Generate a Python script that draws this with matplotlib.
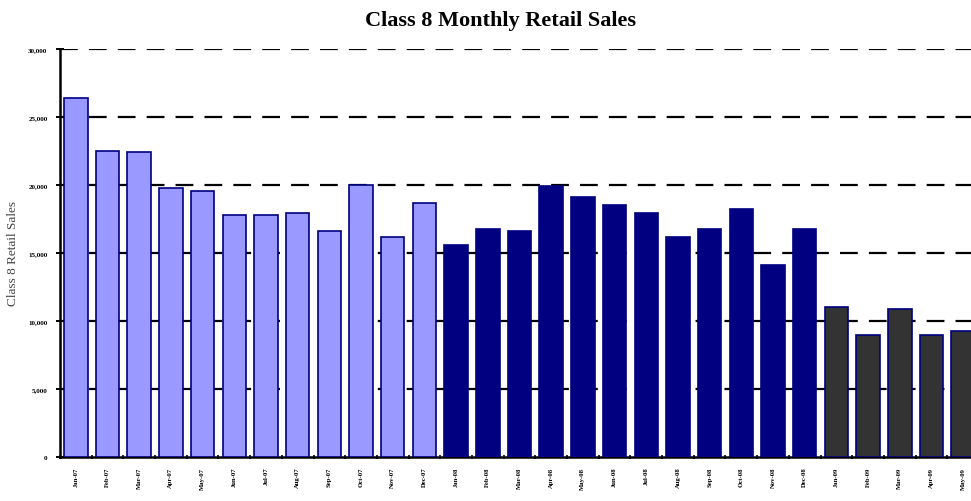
import matplotlib
matplotlib.use("Agg")
import matplotlib.pyplot as plt
from matplotlib.ticker import FuncFormatter

months = ["Jan-07", "Feb-07", "Mar-07", "Apr-07", "May-07", "Jun-07", "Jul-07", "Aug-07",
          "Sep-07", "Oct-07", "Nov-07", "Dec-07",
          "Jan-08", "Feb-08", "Mar-08", "Apr-08", "May-08", "Jun-08", "Jul-08", "Aug-08",
          "Sep-08", "Oct-08", "Nov-08", "Dec-08",
          "Jan-09", "Feb-09", "Mar-09", "Apr-09", "May-09"]
sales = [26400, 22500, 22400, 19800, 19550, 17800, 17800, 17950, 16650, 20000, 16200, 18700,
         15600, 16750, 16650, 19950, 19150, 18550, 17950, 16200, 16750, 18250, 14150, 16750,
         11050, 8950, 10900, 8950, 9250]
years = [2007] * 12 + [2008] * 12 + [2009] * 5
yticks = [0, 5000, 10000, 15000, 20000, 25000, 30000]

face = {2007: "#9999FF", 2008: "#000080", 2009: "#333333"}

W, H = 971, 502
fig = plt.figure(figsize=(W / 100, H / 100), dpi=100)
x0, x1 = 60, 979
y0, y1 = 458, 50
ax = fig.add_axes([x0 / W, 1 - y0 / H, (x1 - x0) / W, (y0 - y1) / H])

serif = ["Liberation Serif", "DejaVu Serif"]

xs = list(range(len(months)))
ax.bar(xs, sales, width=0.74, color=[face[y] for y in years],
       edgecolor="#000080", linewidth=1.2, zorder=3)

ax.set_xlim(-0.5, len(months) - 0.5)
ax.set_ylim(0, 30000)
ax.set_yticks(yticks)
ax.yaxis.set_major_formatter(FuncFormatter(lambda v, p: f"{int(v):,}"))
for v in yticks[1:]:
    ax.axhline(v, color="black", linestyle=(0, (8, 5)), linewidth=1.6, zorder=1)

ax.set_xticks(xs)
ax.set_xticklabels(months, rotation=90, fontsize=4.8, family=serif, fontweight="bold")
ax.set_xticks([x - 0.5 for x in xs] + [len(months) - 0.5], minor=True)
ax.tick_params(axis="x", which="major", length=0, pad=7)
ax.tick_params(axis="x", which="minor", length=3, width=1.2, direction="inout")
ax.tick_params(axis="y", length=6, width=1.4, direction="inout", labelsize=5, pad=6)
for t in ax.get_yticklabels():
    t.set_family(serif)
    t.set_fontweight("bold")

for s in ["top", "right"]:
    ax.spines[s].set_visible(False)
ax.spines["left"].set_linewidth(1.8)
ax.spines["bottom"].set_linewidth(1.8)

ax.set_ylabel("Class 8 Retail Sales", family=serif, fontsize=9.5, color="#444444", labelpad=7)
fig.text(500 / W, 1 - 21 / H, "Class 8 Monthly Retail Sales", ha="center", va="center",
         family=serif, fontsize=16, fontweight="bold")

fig.savefig("out.png", dpi=100)
